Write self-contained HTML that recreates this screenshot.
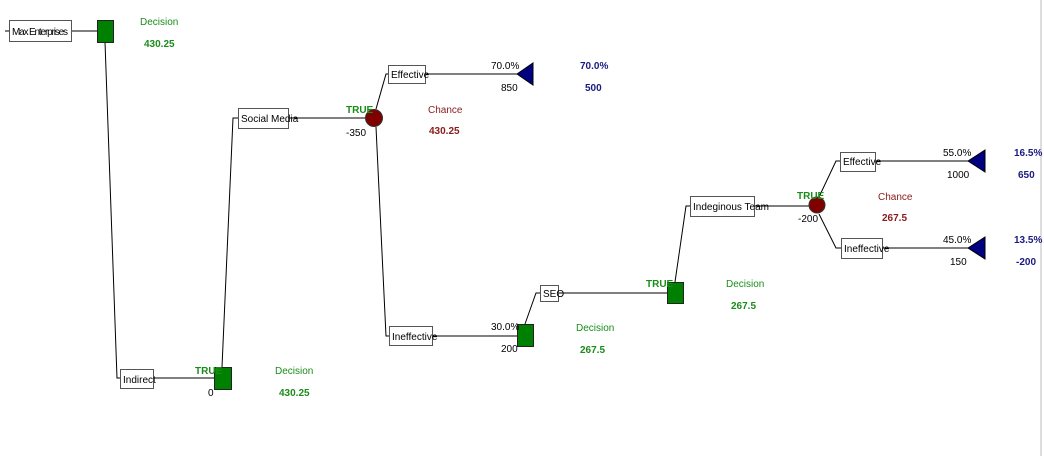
<!DOCTYPE html>
<html><head><meta charset="utf-8"><style>
html,body{margin:0;padding:0;background:#fff;width:1044px;height:456px;overflow:hidden}
text{font-family:"Liberation Sans",sans-serif;font-size:10px}
.g{fill:#1a8c1a;font-weight:bold}
.b{fill:#1a1a80;font-weight:bold}
.r{fill:#8b1a1a}
.k{fill:#000}
</style></head><body>
<svg width="1044" height="456" viewBox="0 0 1044 456" xmlns="http://www.w3.org/2000/svg">
<line x1="1041" y1="0" x2="1041" y2="456" stroke="#bbb" stroke-width="1"/>
<g stroke="#000" stroke-width="1" fill="none">
<line x1="5" y1="31" x2="9" y2="31"/>
<line x1="71" y1="31" x2="97" y2="31"/>
<polyline points="105,42 117,378 120,378"/>
<line x1="153" y1="378" x2="214" y2="378"/>
<polyline points="222,367 233,118 238,118"/>
<line x1="288" y1="118" x2="366" y2="118"/>
<polyline points="376,109 386,74 388,74"/>
<line x1="425" y1="74" x2="517" y2="74"/>
<polyline points="376,127 386,336 389,336"/>
<line x1="432" y1="336" x2="517" y2="336"/>
<polyline points="525,324 536,293 540,293"/>
<line x1="558" y1="293" x2="667" y2="293"/>
<polyline points="675,282 686,206 690,206"/>
<line x1="754" y1="206" x2="809" y2="206"/>
<polyline points="819,197 836,161 840,161"/>
<line x1="875" y1="161" x2="968" y2="161"/>
<polyline points="819,214 836,248 841,248"/>
<line x1="882" y1="248" x2="968" y2="248"/>
</g>
<g stroke="#555" fill="#fff">
<rect x="9.5" y="20.5" width="62" height="21"/>
<rect x="120.5" y="369.5" width="33" height="19"/>
<rect x="238.5" y="108.5" width="50" height="20"/>
<rect x="388.5" y="65.5" width="37" height="18"/>
<rect x="389.5" y="326.5" width="43" height="19"/>
<rect x="540.5" y="285.5" width="18" height="16"/>
<rect x="690.5" y="196.5" width="64" height="20"/>
<rect x="840.5" y="152.5" width="35" height="19"/>
<rect x="841.5" y="238.5" width="41" height="20"/>
</g>
<g fill="#008000" stroke="#222">
<rect x="97.5" y="20.5" width="16" height="22"/>
<rect x="214.5" y="367.5" width="17" height="22"/>
<rect x="517.5" y="324.5" width="16" height="22"/>
<rect x="667.5" y="282.5" width="16" height="21"/>
</g>
<g fill="#800000" stroke="#333">
<circle cx="374" cy="118" r="8.5"/>
<circle cx="817" cy="205" r="8"/>
</g>
<g fill="#000080" stroke="#000">
<polygon points="517,74 533,63 533,85"/>
<polygon points="968,161 985,150 985,172"/>
<polygon points="968,248 985,237 985,259"/>
</g>
<text class="k" x="12" y="35" textLength="56">Max Enterprises</text>
<text class="g" x="140" y="25" style="font-weight:normal">Decision</text>
<text class="g" x="144" y="47">430.25</text>
<text class="k" x="123" y="383">Indirect</text>
<text class="g" x="195" y="374">TRUE</text>
<text class="k" x="208" y="396">0</text>
<text class="g" x="275" y="374" style="font-weight:normal">Decision</text>
<text class="g" x="279" y="396">430.25</text>
<text class="k" x="241" y="122">Social Media</text>
<text class="g" x="346" y="113">TRUE</text>
<text class="k" x="346" y="136">-350</text>
<text class="r" x="428" y="113">Chance</text>
<text class="r" x="429" y="134" style="font-weight:bold">430.25</text>
<text class="k" x="391" y="78">Effective</text>
<text class="k" x="491" y="69">70.0%</text>
<text class="k" x="501" y="91">850</text>
<text class="b" x="580" y="69">70.0%</text>
<text class="b" x="585" y="91">500</text>
<text class="k" x="392" y="340">Ineffective</text>
<text class="k" x="491" y="330">30.0%</text>
<text class="k" x="501" y="352">200</text>
<text class="g" x="576" y="331" style="font-weight:normal">Decision</text>
<text class="g" x="580" y="353">267.5</text>
<text class="k" x="543" y="297">SEO</text>
<text class="g" x="646" y="287">TRUE</text>
<text class="g" x="726" y="287" style="font-weight:normal">Decision</text>
<text class="g" x="731" y="309">267.5</text>
<text class="k" x="693" y="210">Indeginous Team</text>
<text class="g" x="797" y="199">TRUE</text>
<text class="k" x="798" y="222">-200</text>
<text class="r" x="878" y="200">Chance</text>
<text class="r" x="882" y="221" style="font-weight:bold">267.5</text>
<text class="k" x="843" y="165">Effective</text>
<text class="k" x="943" y="156">55.0%</text>
<text class="k" x="947" y="178">1000</text>
<text class="b" x="1014" y="156">16.5%</text>
<text class="b" x="1018" y="178">650</text>
<text class="k" x="844" y="252">Ineffective</text>
<text class="k" x="943" y="243">45.0%</text>
<text class="k" x="950" y="265">150</text>
<text class="b" x="1014" y="243">13.5%</text>
<text class="b" x="1016" y="265">-200</text>
</svg>
</body></html>
